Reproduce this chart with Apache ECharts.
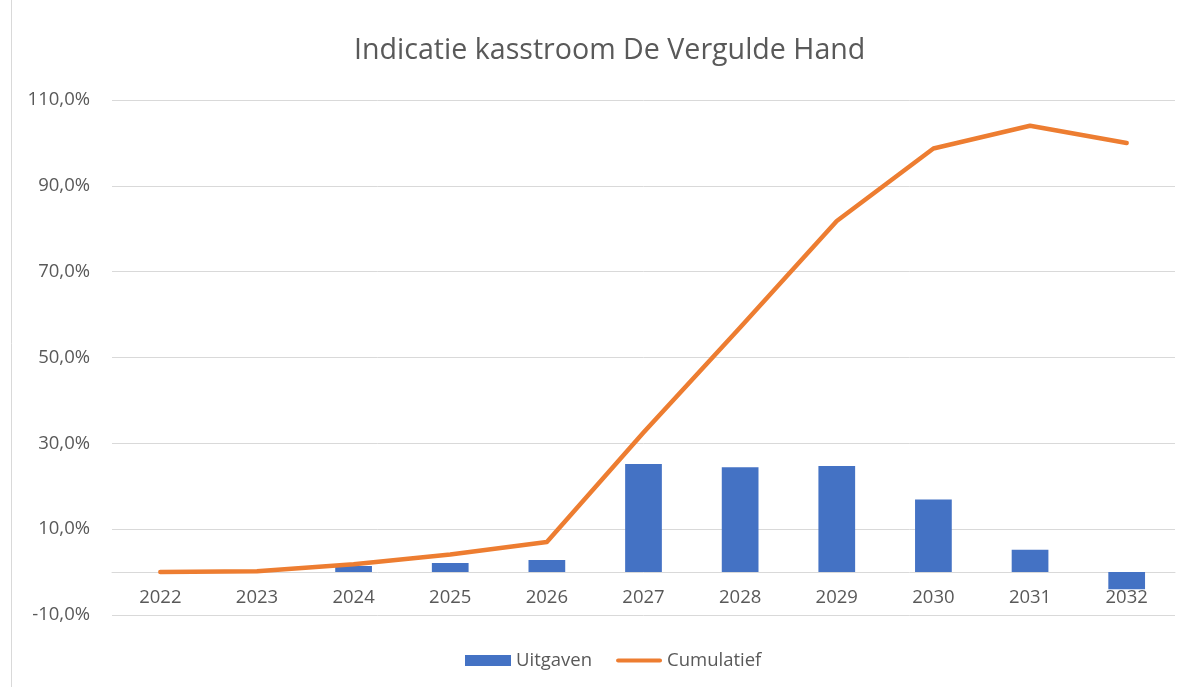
<!DOCTYPE html>
<html>
<head>
<meta charset="utf-8">
<script src="https://cdn.jsdelivr.net/npm/echarts@6/dist/echarts.min.js"></script>
<style>
html,body{margin:0;padding:0;background:#fff;}
#chart{width:1189px;height:687px;}
</style>
</head>
<body>
<div id="chart"></div>
<script>
const years = ['2022','2023','2024','2025','2026','2027','2028','2029','2030','2031','2032'];
const uitgaven = [0.0, 0.0, 1.4, 2.1, 2.8, 25.2, 24.4, 24.7, 16.9, 5.2, -4.0];
const cumulatief = [0.0, 0.2, 1.8, 4.1, 7.0, 32.5, 57.0, 81.8, 98.7, 104.0, 100.0];
const yTicks = [-10, 10, 30, 50, 70, 90, 110];

const chart = echarts.init(document.getElementById('chart'));
const fontFam = 'Open Sans, Noto Sans, sans-serif';
const gridTop = 100, gridBottom = 72, H = 687;
const plotH = H - gridTop - gridBottom;
const yMin = yTicks[0], yMax = yTicks[yTicks.length - 1];
const zeroOffset = plotH * (0 - yMin) / (yMax - yMin);

chart.setOption({
  backgroundColor: '#fff',
  animation: false,
  title: {
    text: 'Indicatie kasstroom De Vergulde Hand',
    left: 349, top: 31,
    textStyle: { fontFamily: fontFam, fontSize: 28.6, fontWeight: 'normal', color: '#595959' }
  },
  graphic: [{
    type: 'rect', shape: { x: 11.5, y: -5, width: 1300, height: 800 },
    style: { fill: 'none', stroke: '#d9d9d9', lineWidth: 1 }, silent: true
  }],
  legend: {
    bottom: 12, left: 460, itemGap: 24, itemWidth: 46, itemHeight: 11,
    textStyle: { fontFamily: fontFam, fontSize: 18.5, color: '#595959' },
    data: [
      { name: 'Uitgaven', icon: 'rect' },
      { name: 'Cumulatief', icon: 'path://M2,0 H48 A2,2 0 0 1 48,4.5 H2 A2,2 0 0 1 2,0 Z' }
    ]
  },
  grid: { left: 112, right: 14, top: gridTop, bottom: gridBottom, containLabel: false },
  xAxis: {
    type: 'category', data: years, boundaryGap: true,
    offset: -zeroOffset,
    axisLine: { onZero: false, lineStyle: { color: '#d9d9d9', width: 1 } },
    axisTick: { show: false },
    axisLabel: { color: '#595959', fontFamily: fontFam, fontSize: 18.5, margin: 16 }
  },
  yAxis: {
    type: 'value', min: yMin, max: yMax, interval: 20,
    axisLine: { show: false }, axisTick: { show: false },
    splitLine: { lineStyle: { color: '#d9d9d9', width: 1 } },
    axisLabel: {
      color: '#595959', fontFamily: fontFam, fontSize: 18.5, margin: 22,
      formatter: v => v.toFixed(1).replace('.', ',') + '%'
    }
  },
  series: [
    {
      name: 'Uitgaven', type: 'bar', data: uitgaven, barWidth: '38%',
      itemStyle: { color: '#4472C4' }
    },
    {
      name: 'Cumulatief', type: 'line', data: cumulatief, symbol: 'none',
      lineStyle: { color: '#ED7D31', width: 4.5, cap: 'round', join: 'round' },
      itemStyle: { color: '#ED7D31' }
    }
  ]
});
</script>
</body>
</html>
